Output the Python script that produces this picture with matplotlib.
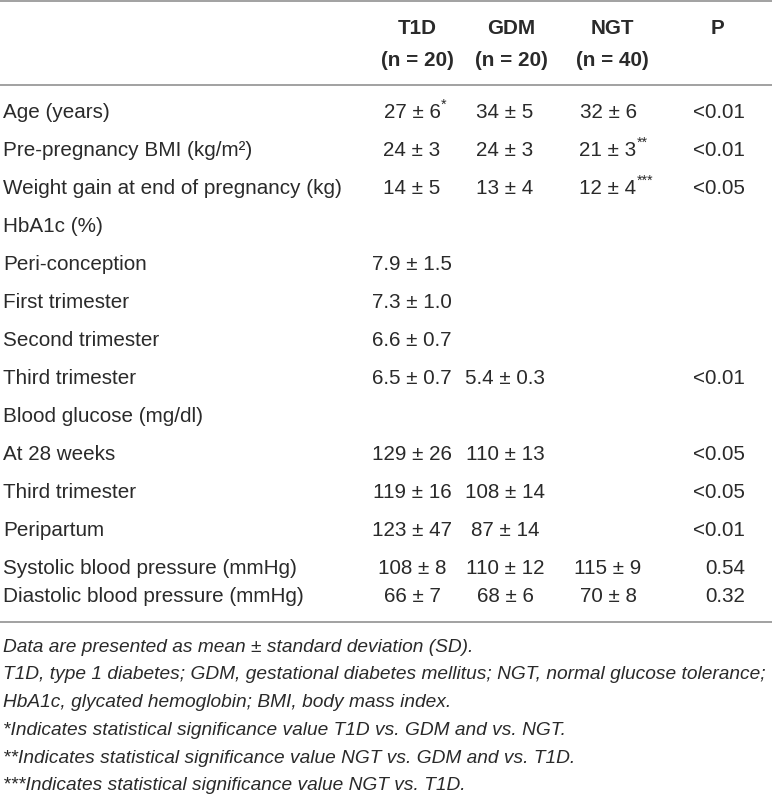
import matplotlib.pyplot as plt

# table content
row_labels = ["Age (years)", "Pre-pregnancy BMI (kg/m²)",
              "Weight gain at end of pregnancy (kg)", "HbA1c (%)",
              "Peri-conception", "First trimester", "Second trimester",
              "Third trimester", "Blood glucose (mg/dl)", "At 28 weeks",
              "Third trimester", "Peripartum",
              "Systolic blood pressure (mmHg)", "Diastolic blood pressure (mmHg)"]
t1d = ["27 ± 6", "24 ± 3", "14 ± 5", "", "7.9 ± 1.5", "7.3 ± 1.0", "6.6 ± 0.7",
       "6.5 ± 0.7", "", "129 ± 26", "119 ± 16", "123 ± 47", "108 ± 8", "66 ± 7"]
t1d_sup = ["*", "", "", "", "", "", "", "", "", "", "", "", "", ""]
gdm = ["34 ± 5", "24 ± 3", "13 ± 4", "", "", "", "", "5.4 ± 0.3", "",
       "110 ± 13", "108 ± 14", "87 ± 14", "110 ± 12", "68 ± 6"]
ngt = ["32 ± 6", "21 ± 3", "12 ± 4", "", "", "", "", "", "", "", "", "",
       "115 ± 9", "70 ± 8"]
ngt_sup = ["", "**", "***", "", "", "", "", "", "", "", "", "", "", ""]
pvals = ["<0.01", "<0.01", "<0.05", "", "", "", "", "<0.01", "",
         "<0.05", "<0.05", "<0.01", "0.54", "0.32"]
headers = ["T1D\n(n = 20)", "GDM\n(n = 20)", "NGT\n(n = 40)"]
footnotes = [
    "Data are presented as mean ± standard deviation (SD).",
    "T1D, type 1 diabetes; GDM, gestational diabetes mellitus; NGT, normal glucose tolerance;",
    "HbA1c, glycated hemoglobin; BMI, body mass index.",
    "*Indicates statistical significance value T1D vs. GDM and vs. NGT.",
    "**Indicates statistical significance value NGT vs. GDM and vs. T1D.",
    "***Indicates statistical significance value NGT vs. T1D.",
]

W, H = 772, 799
plt.rcParams['font.family'] = ['Liberation Sans', 'DejaVu Sans']
fig = plt.figure(figsize=(W / 100, H / 100), dpi=100)
ax = fig.add_axes([0, 0, 1, 1])
ax.set_xlim(0, W)
ax.set_ylim(H, 0)
ax.axis('off')

txt = '#2a2a2a'
fs = 14.9
line_col = '#9a9a9a'

# rules
for y in [1.2, 85, 622]:
    ax.plot([0, W], [y, y], color=line_col, lw=1.3, solid_capstyle='butt')

# header
head_x = [417, 511, 612]
for x, h in zip(head_x, headers):
    top, bottom = h.split("\n")
    ax.text(x, 29, top, ha='center', va='center', fontsize=fs,
            fontweight='bold', color=txt)
    ax.text(x, 60, bottom, ha='center', va='center', fontsize=fs,
            fontweight='bold', color=txt)
ax.text(718, 29, "P", ha='center', va='center', fontsize=fs,
        fontweight='bold', color=txt)

row_y = [113 + 38 * i for i in range(13)] + [597]
fig.canvas.draw()
renderer = fig.canvas.get_renderer()


def cell(x, y, s, sup=""):
    if not s:
        return
    t = ax.text(x, y, s, ha='center', va='center', fontsize=fs, color=txt)
    if sup:
        bb = t.get_window_extent(renderer)
        xr = ax.transData.inverted().transform((bb.x1, bb.y1))[0]
        ax.text(xr + 0.5, y - 8, sup, ha='left', va='center', fontsize=fs * 0.68,
                color=txt)


for i, y in enumerate(row_y):
    ax.text(3, y, row_labels[i], ha='left', va='center', fontsize=fs, color=txt)
    cell(412, y, t1d[i], t1d_sup[i])
    cell(505, y, gdm[i])
    cell(608, y, ngt[i], ngt_sup[i])
    if pvals[i]:
        ax.text(745, y, pvals[i], ha='right', va='center', fontsize=fs, color=txt)

for k, note in enumerate(footnotes):
    ax.text(3, 647 + 27.8 * k, note, ha='left', va='center', fontsize=13.8,
            style='italic', color=txt)

fig.savefig("out.png", dpi=100)
